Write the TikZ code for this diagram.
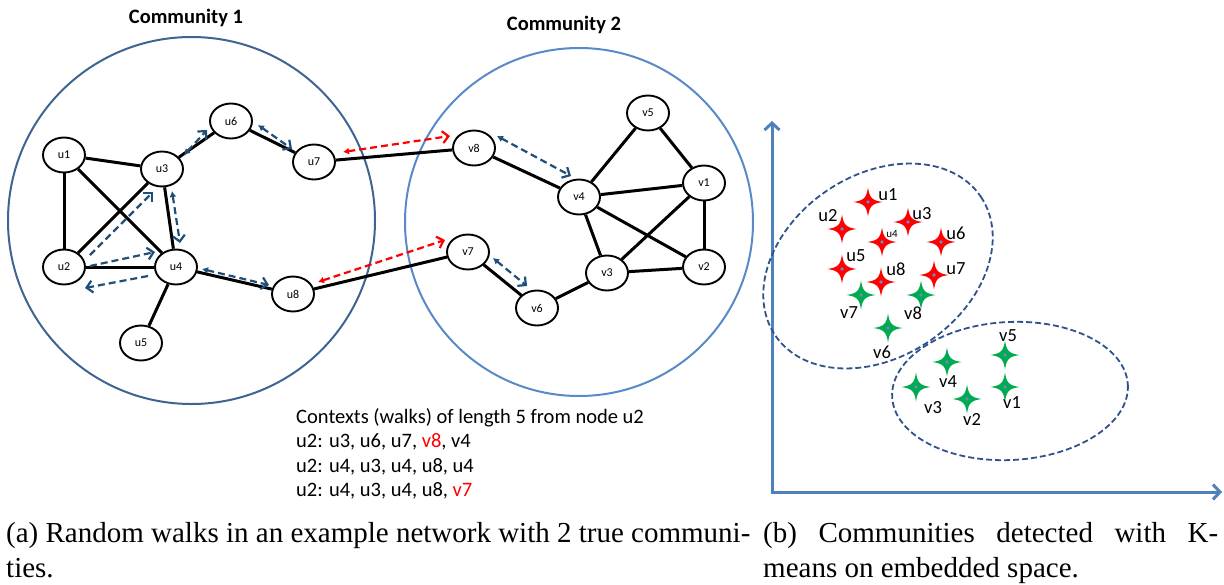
\documentclass[tikz,border=0pt]{standalone}
\usepackage{fontspec}
\setmainfont{Liberation Serif}
\newfontfamily\calfont{Carlito}
\usetikzlibrary{shapes.geometric,arrows.meta}
\definecolor{walkblue}{RGB}{31,78,121}
\definecolor{cone}{RGB}{62,100,145}
\definecolor{ctwo}{RGB}{88,138,200}
\definecolor{axisblue}{RGB}{79,129,189}
\definecolor{clusterblue}{RGB}{47,82,140}
\definecolor{stargreen}{RGB}{0,170,80}
\definecolor{dotblue}{RGB}{100,140,200}
\tikzset{
  gn/.style={ellipse, draw, line width=1.9pt, fill=white, minimum width=42pt, minimum height=35pt, inner sep=0pt, font=\calfont\fontsize{12}{13}\selectfont},
  edge/.style={line width=3pt, black},
  walk/.style={line width=2.2pt, dash pattern=on 7pt off 4pt, walkblue},
  redwalk/.style={line width=2.2pt, dash pattern=on 7pt off 4pt, red},
  twohead/.style={{Latex[length=6pt,width=7pt]}-{Straight Barb[length=6pt,width=12pt,line width=2.2pt]}},
  onehead/.style={-{Straight Barb[length=6pt,width=12pt,line width=2.2pt]}},
  ttl/.style={font=\calfont\bfseries\fontsize{20.5}{24}\selectfont},
  ctx/.style={anchor=base west, inner sep=0pt, font=\calfont\fontsize{20.5}{24}\selectfont},
  slab/.style={inner sep=0pt, font=\calfont\fontsize{18.5}{20}\selectfont},
  captxt/.style={anchor=base west, inner sep=0pt, font=\fontsize{29}{34}\selectfont},
  star4/.pic={
    \fill[#1] (0,-14.5) .. controls (1.6,-4) and (4,-1.6) .. (14.5,0)
      .. controls (4,1.6) and (1.6,4) .. (0,14.5)
      .. controls (-1.6,4) and (-4,1.6) .. (-14.5,0)
      .. controls (-4,-1.6) and (-1.6,-4) .. cycle;
    \fill[dotblue] (0,0) circle (1.8pt);
  }
}
\begin{document}
\begin{tikzpicture}[x=1pt,y=-1pt]
\useasboundingbox (0,0) rectangle (1224,584);
% community circles
\draw[cone, line width=2pt] (191.5,220.5) circle (183.5pt);
\draw[ctwo, line width=2pt] (579,222) circle (174pt);
\node[ttl] (t1) at (186,18) {Community 1};
\node[ttl] (t2) at (564,25) {Community 2};
% nodes community 1
\node[gn] (u1) at (64,155) {u1};
\node[gn] (u3) at (162,169) {u3};
\node[gn] (u6) at (231,121) {u6};
\node[gn] (u7) at (314,162) {u7};
\node[gn] (u2) at (64,267) {u2};
\node[gn] (u4) at (176,267) {u4};
\node[gn] (u8) at (293,294) {u8};
\node[gn] (u5) at (141,343) {u5};
% nodes community 2
\node[gn] (v8) at (474,148) {v8};
\node[gn] (v5) at (648,113) {v5};
\node[gn] (v4) at (579,197) {v4};
\node[gn] (v1) at (704,183) {v1};
\node[gn] (v7) at (468,252) {v7};
\node[gn] (v3) at (607,273) {v3};
\node[gn] (v2) at (704,267) {v2};
\node[gn] (v6) at (537,308) {v6};
% edges
\foreach \a/\b in {u1/u3,u1/u2,u1/u4,u2/u3,u2/u4,u3/u4,u3/u6,u6/u7,u4/u5,u4/u8,u7/v8,u8/v7,
  v8/v4,v4/v5,v5/v1,v4/v1,v4/v3,v4/v2,v1/v3,v1/v2,v3/v2,v3/v6,v6/v7}
  \draw[edge] (\a) -- (\b);
% walk arrows
\coordinate (a1s) at (184,155); \coordinate (a1e) at (207,130);
\coordinate (a2s) at (258,125); \coordinate (a2e) at (292,149);
\coordinate (a3s) at (90,255);  \coordinate (a3e) at (153,192);
\coordinate (a4s) at (90,266);  \coordinate (a4e) at (155,252);
\coordinate (a5s) at (148,276); \coordinate (a5e) at (85,288);
\coordinate (a6s) at (172,191); \coordinate (a6e) at (180,243);
\coordinate (a7s) at (202,269); \coordinate (a7e) at (269,285);
\coordinate (a8s) at (497,136); \coordinate (a8e) at (571,176);
\coordinate (a9s) at (493,258); \coordinate (a9e) at (527,286);
\coordinate (r1s) at (343,152); \coordinate (r1e) at (450,136);
\coordinate (r2s) at (318,282); \coordinate (r2e) at (445,240);
\draw[walk,twohead] (a1s) -- (a1e);
\draw[walk,twohead] (a2s) -- (a2e);
\draw[walk,onehead] (a3s) -- (a3e);
\draw[walk,onehead] (a4s) -- (a4e);
\draw[walk,onehead] (a5s) -- (a5e);
\draw[walk,twohead] (a6s) -- (a6e);
\draw[walk,twohead] (a7s) -- (a7e);
\draw[walk,twohead] (a8s) -- (a8e);
\draw[walk,twohead] (a9s) -- (a9e);
\draw[redwalk,twohead] (r1s) -- (r1e);
\draw[redwalk,twohead] (r2s) -- (r2e);
% contexts text
\node[ctx] (c1) at (296,423) {Contexts (walks) of length 5 from node u2};
\node[ctx] (c2) at (296,447.5) {u2: u3, u6, u7, \textcolor{red}{v8}, v4};
\node[ctx] (c3) at (296,472) {u2: u4, u3, u4, u8, u4};
\node[ctx] (c4) at (296,496.5) {u2: u4, u3, u4, u8, \textcolor{red}{v7}};
% axes
\coordinate (ytip) at (772,121);
\coordinate (orig) at (772,492);
\coordinate (xtip) at (1222,492);
\draw[axisblue, line width=3pt, {Straight Barb[length=7pt,width=15pt,line width=3pt]}-{Straight Barb[length=7pt,width=15pt,line width=3pt]}] (ytip) -- (orig) -- (xtip);
% cluster ellipses
\draw[clusterblue, line width=1.8pt, dash pattern=on 6pt off 3pt, shift={(878,266)}, rotate=34] (0,0) ellipse [x radius=124, y radius=91];
\draw[clusterblue, line width=1.8pt, dash pattern=on 6pt off 3pt, shift={(1010,391)}, rotate=3] (0,0) ellipse [x radius=118, y radius=69];
% stars
\pic at (868,202) {star4=red};
\pic at (842,229) {star4=red};
\pic at (908,222) {star4=red};
\pic at (882,242) {star4=red};
\pic at (941,242) {star4=red};
\pic at (842,269) {star4=red};
\pic at (881,282) {star4=red};
\pic at (934,275) {star4=red};
\pic at (861,295) {star4=stargreen};
\pic at (921,295) {star4=stargreen};
\pic at (888,328) {star4=stargreen};
\pic at (1005,355) {star4=stargreen};
\pic at (947,362) {star4=stargreen};
\pic at (1005,387) {star4=stargreen};
\pic at (916,387) {star4=stargreen};
\pic at (967,399) {star4=stargreen};
% star labels
\node[slab] (lu1) at (888,195) {u1};
\node[slab] (lu2) at (828,216) {u2};
\node[slab] (lu3) at (922,214) {u3};
\node[inner sep=0pt, font=\calfont\fontsize{11}{12}\selectfont] (lu4) at (892,234) {u4};
\node[slab] (lu6) at (956,233) {u6};
\node[slab] (lu5) at (856,256) {u5};
\node[slab] (lu8) at (896,269) {u8};
\node[slab] (lu7) at (956,269) {u7};
\node[slab] (lv7) at (849,313) {v7};
\node[slab] (lv8) at (913,313) {v8};
\node[slab] (lv6) at (882,352) {v6};
\node[slab] (lv5) at (1008,336) {v5};
\node[slab] (lv4) at (948,382) {v4};
\node[slab] (lv1) at (1012,403) {v1};
\node[slab] (lv3) at (933,408) {v3};
\node[slab] (lv2) at (972,419) {v2};
% captions
\node[captxt] (capa1) at (6,542) {(a) Random walks in an example network with 2 true communi-};
\node[captxt] (capa2) at (6,577) {ties.};
\node[captxt] (capb1) at (763,542) {\makebox[455pt][s]{(b) Communities detected with K-}};
\node[captxt] (capb2) at (763,577) {means on embedded space.};
\end{tikzpicture}
\end{document}
